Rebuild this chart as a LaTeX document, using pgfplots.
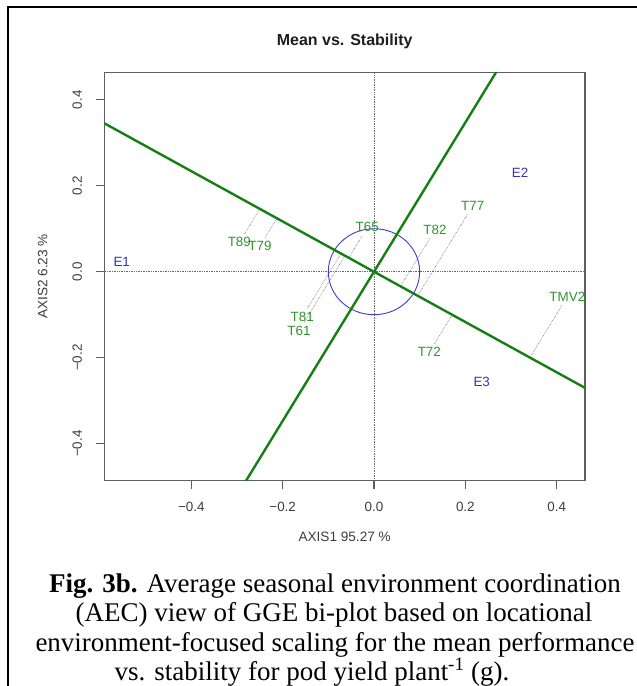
\documentclass[border=0pt]{standalone}
\usepackage{pgfplots}
\pgfplotsset{compat=1.18}
\usepackage{pgfplotstable}
\usepackage{fontspec}
\setmainfont{Liberation Serif}
\newfontfamily\arial{Liberation Sans}
\definecolor{lgreen}{RGB}{20,128,20}
\definecolor{tgreen}{RGB}{45,150,45}
\definecolor{tblue}{RGB}{50,50,185}
\definecolor{cblue}{RGB}{60,60,200}
\definecolor{axgray}{RGB}{95,95,95}
\definecolor{txgray}{RGB}{60,60,60}
\definecolor{dotgray}{RGB}{105,105,105}

\pgfplotstableread{
label x y
T89 -0.2949 0.0684
T79 -0.2496 0.0598
T65 -0.0147 0.1033
T81 -0.1570 -0.1047
T61 -0.1642 -0.1372
T82 0.1336 0.0970
T77 0.2161 0.1528
TMV2 0.4233 -0.0581
T72 0.1211 -0.1874
}\genos
\pgfplotstableread{
label x y
E1 -0.5524 0.0233
E2 0.3197 0.2300
E3 0.2358 -0.2558
}\envs

\begin{document}
\begin{tikzpicture}
\path[use as bounding box] (0pt,0pt) rectangle (637pt,-686pt);
\draw[line width=2pt, black] (7.5pt,-690pt) -- (7.5pt,-7.3pt) -- (640pt,-7.3pt);
\begin{axis}[
  at={(104.3pt,-480.7pt)}, anchor=south west,
  scale only axis, width=480.7pt, height=408.4pt,
  xmin=-0.5905, xmax=0.462, ymin=-0.486, ymax=0.4637,
  axis line style={draw=axgray, line width=1.1pt},
  xtick={-0.4,-0.2,0,0.2,0.4}, xticklabels={−0.4,−0.2,0.0,0.2,0.4},
  ytick={-0.4,-0.2,0,0.2,0.4}, yticklabels={−0.4,−0.2,0.0,0.2,0.4},
  tick align=outside, major tick length=8.6pt,
  tick style={draw=axgray, line width=1.1pt},
  xtick pos=bottom, ytick pos=left,
  /pgf/number format/assume math mode=true,
  ticklabel style={font=\arial\fontsize{13.4}{16}\selectfont, text=txgray},
  xticklabel style={anchor=north, inner sep=0pt},
  yticklabel style={rotate=90, anchor=south, inner sep=0pt},
  xticklabel shift=13pt, yticklabel shift=13.5pt,
  xlabel={AXIS1 95.27 \%}, ylabel={AXIS2 6.23 \%},
  label style={font=\arial\fontsize{13.6}{16}\selectfont, text=txgray},
  xlabel style={at={(axis description cs:0.5,-0.1386)}, anchor=center},
  ylabel style={at={(axis description cs:-0.1281,0.5)}, anchor=center},
  title={Mean vs. Stability},
  title style={font=\arial\bfseries\fontsize{16}{19}\selectfont, text={rgb,255:red,30;green,30;blue,30}, at={(0.5,1.0509)}, anchor=base},
]
% reference dotted axes
\addplot[dotgray, densely dotted, line width=0.7pt] coordinates {(-0.7,0) (0.6,0)};
\addplot[dotgray, densely dotted, line width=0.7pt] coordinates {(0,-0.6) (0,0.6)};
% projections onto the AEC abscissa
\addplot[dotgray, densely dotted, line width=0.6pt] coordinates {(-0.2836,0.0878) (-0.2500,0.1460)};
\addplot[dotgray, densely dotted, line width=0.6pt] coordinates {(-0.2382,0.0796) (-0.2125,0.1242)};
\addplot[dotgray, densely dotted, line width=0.6pt] coordinates {(-0.0260,0.0832) (-0.0553,0.0323)};
\addplot[dotgray, densely dotted, line width=0.6pt] coordinates {(-0.1456,-0.0849) (-0.0723,0.0423)};
\addplot[dotgray, densely dotted, line width=0.6pt] coordinates {(-0.1526,-0.1172) (-0.0636,0.0372)};
\addplot[dotgray, densely dotted, line width=0.6pt] coordinates {(0.1222,0.0772) (0.0581,-0.0340)};
\addplot[dotgray, densely dotted, line width=0.6pt] coordinates {(0.2046,0.1332) (0.0956,-0.0559)};
\addplot[dotgray, densely dotted, line width=0.6pt] coordinates {(0.4116,-0.0778) (0.3414,-0.1996)};
\addplot[dotgray, densely dotted, line width=0.6pt] coordinates {(0.1324,-0.1677) (0.1713,-0.1002)};
% circle
\draw[cblue, line width=0.9pt] (axis cs:0,0) ellipse [x radius=0.1, y radius=0.1];
% AEC lines
\addplot[lgreen, line width=2.4pt] coordinates {(-0.70,0.4092) (0.60,-0.3508)};
\addplot[lgreen, line width=2.4pt] coordinates {(-0.32,-0.5552) (0.30,0.5205)};
% labels
\addplot[only marks, mark=*, mark size=0pt, mark options={draw=none,fill=none},
  nodes near coords, point meta=explicit symbolic,
  nodes near coords style={anchor=center, inner sep=0pt, text=tgreen, font=\arial\fontsize{13.4}{16}\selectfont}]
  table[x=x, y=y, meta=label] {\genos};
\addplot[only marks, mark=*, mark size=0pt, mark options={draw=none,fill=none},
  nodes near coords, point meta=explicit symbolic,
  nodes near coords style={anchor=center, inner sep=0pt, text=tblue, font=\arial\fontsize{13.4}{16}\selectfont}]
  table[x=x, y=y, meta=label] {\envs};
\end{axis}
\begin{scope}[every node/.style={anchor=base, inner sep=0pt, font=\fontsize{27}{30}\selectfont}]
\node at (335pt,-592pt) {\textbf{Fig. 3b.} Average seasonal environment coordination};
\node at (334pt,-621.5pt) {(AEC) view of GGE bi-plot based on locational};
\node at (335pt,-651pt) {environment-focused scaling for the mean performance};
\node at (312pt,-680pt) {vs. stability for pod yield plant\textsuperscript{-1} (g).};
\end{scope}
\end{tikzpicture}
\end{document}
